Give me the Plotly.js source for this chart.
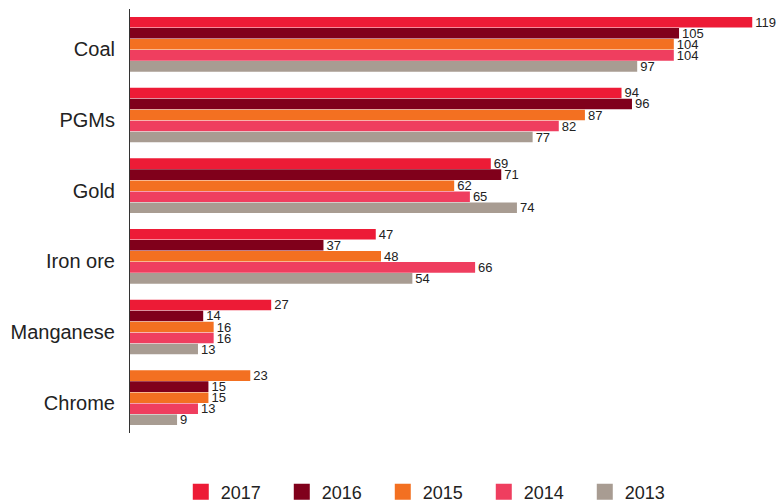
<!DOCTYPE html>
<html>
<head>
<meta charset="utf-8">
<script src="https://cdn.plot.ly/plotly-3.0.1.min.js"></script>
<style>html,body{margin:0;padding:0;background:#fff;}#chart{width:781px;height:502px;}</style>
</head>
<body>
<div id="chart"></div>
<script>
var categories = ["Coal", "PGMs", "Gold", "Iron ore", "Manganese", "Chrome"];
var years = ["2017", "2016", "2015", "2014", "2013"];
var v2017 = [119, 94, 69, 47, 27, 23];
var v2016 = [105, 96, 71, 37, 14, 15];
var v2015 = [104, 87, 62, 48, 16, 15];
var v2014 = [104, 82, 65, 66, 16, 13];
var v2013 = [97, 77, 74, 54, 13, 9];

var colors = ["#ED1B36", "#80001B", "#F37021", "#EF3E5F", "#A89C92"];
var series = [v2017, v2016, v2015, v2014, v2013];

var traces = [];
series.forEach(function (vals, i) {
  var mc = colors[i];
  if (i === 0) {
    // in the reference, the Chrome 2017 bar is drawn in the 2015 orange
    mc = categories.map(function (c) { return c === "Chrome" ? colors[2] : colors[0]; });
  }
  traces.push({
    type: "bar",
    orientation: "h",
    name: years[i],
    y: categories,
    x: vals,
    text: vals.map(String),
    textposition: "outside",
    constraintext: "none",
    cliponaxis: false,
    textfont: {family: "Liberation Sans, Arial, sans-serif", size: 13, color: "#222"},
    marker: {color: mc, line: {width: 0}},
    showlegend: false,
    hoverinfo: "x+name"
  });
});
// legend proxies with larger square swatches
years.forEach(function (yr, i) {
  traces.push({
    type: "scatter",
    mode: "markers",
    name: yr,
    x: [null],
    y: [null],
    marker: {symbol: "square", size: 18, color: colors[i]},
    showlegend: true,
    hoverinfo: "skip"
  });
});

var layout = {
  width: 781,
  height: 502,
  margin: {l: 130, r: 0, t: 9, b: 69, autoexpand: false},
  paper_bgcolor: "#fff",
  plot_bgcolor: "#fff",
  barmode: "group",
  bargap: 0.22,
  bargroupgap: 0.04,
  font: {family: "Liberation Sans, Arial, sans-serif", color: "#222"},
  xaxis: {
    range: [0, 124.5],
    showgrid: false,
    zeroline: false,
    showticklabels: false,
    ticks: "",
    showline: false,
    fixedrange: true
  },
  yaxis: {
    type: "category",
    autorange: "reversed",
    showgrid: false,
    zeroline: false,
    showline: true,
    linecolor: "#333",
    linewidth: 1,
    ticks: "",
    ticklabelstandoff: 10,
    ticklabelshift: -5,
    tickfont: {size: 20, color: "#222"},
    fixedrange: true
  },
  showlegend: true,
  legend: {
    orientation: "h",
    x: 0.078,
    xanchor: "left",
    y: -0.139,
    yanchor: "middle",
    font: {size: 18, color: "#222"},
    entrywidth: 56,
    entrywidthmode: "pixels",
    itemsizing: "trace",
    bgcolor: "rgba(0,0,0,0)"
  }
};

Plotly.newPlot("chart", traces, layout, {displayModeBar: false, staticPlot: true});
</script>
</body>
</html>
